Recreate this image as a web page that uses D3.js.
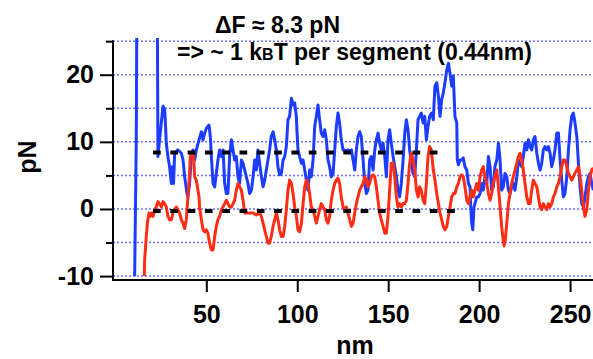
<!DOCTYPE html>
<html>
<head>
<meta charset="utf-8">
<script src="https://cdn.jsdelivr.net/npm/d3@7"></script>
<style>
  body { margin: 0; background: #fff; }
  svg text { font-family: "Liberation Sans", Arial, sans-serif; font-weight: bold; fill: #000; }
</style>
</head>
<body>
<div id="chart"></div>
<script>
// blue trace (nm, pN)
const blueNm = [10.6, 11.5, 11.9, 23.0,
  23.4, 24.3, 26.2, 27.1, 27.6, 28.0, 28.9, 29.8, 30.8, 31.3, 32.0, 32.6, 34.4, 36.3, 37.2, 38.1, 39.4, 39.9, 40.8, 41.8, 42.7,
  43.6, 44.5, 46.0, 47.3, 48.2, 49.1, 50.0, 51.5, 52.2, 52.8, 53.7, 54.6, 55.5, 56.4, 57.3, 58.3, 59.2, 60.1, 61.0, 61.9,
  62.8, 63.8, 64.7, 65.6, 66.5, 67.4, 68.3, 69.3, 70.2, 71.1, 72.0, 72.9, 73.8, 74.8, 75.7, 76.6, 77.5, 78.4, 79.3, 80.3,
  81.2, 82.1, 83.0, 83.9, 84.8, 85.7, 86.7, 87.6, 88.5,
  89.4, 90.3, 91.3, 92.2, 93.1, 94.0, 94.9, 95.8, 96.8, 97.7, 98.6, 99.5, 99.9, 100.4, 101.3, 102.3, 103.2, 104.1, 105.0,
  105.9, 106.8, 107.7, 108.7, 109.6, 110.5, 111.4, 112.3, 113.2, 114.2, 115.1, 116.0, 116.9, 117.8, 118.7, 119.7, 120.6,
  121.5, 122.4, 123.3, 124.2, 125.2, 126.1, 127.0, 127.9, 128.8, 129.8, 130.7, 131.6, 132.5, 133.4, 134.3, 135.2, 136.2,
  137.1, 138.0, 138.9, 139.8, 140.7, 141.7, 142.6, 143.5, 144.4, 145.3, 146.2, 147.2, 148.1, 149.0, 149.9, 150.8, 151.7,
  152.7, 153.6, 154.5, 155.4, 156.3, 157.2, 158.2, 159.1, 160.0, 160.9, 161.8, 162.7, 163.7, 164.6, 165.5, 166.4, 167.3,
  168.2, 169.2, 170.1, 171.0, 171.9, 172.8,
  173.9, 174.8, 175.7, 176.7, 177.6, 178.5, 179.4, 180.3, 181.2, 182.2, 183.1, 184.0, 184.9, 185.8, 186.7, 187.7, 188.0,
  188.6, 189.5, 190.4, 191.3, 192.2, 193.2, 194.1, 195.0, 195.4, 195.9, 196.5, 197.2, 197.7, 198.7, 199.6, 200.5, 201.4,
  202.3, 203.2, 204.2, 205.1, 206.0, 206.9, 207.8, 208.7, 209.7, 210.6, 211.5, 212.4, 213.3, 214.2, 215.2, 216.1, 217.0,
  217.9, 218.8, 219.7, 220.7, 221.6, 222.5, 223.4, 224.3, 225.2, 226.2, 227.1, 228.0, 228.9, 229.8, 230.7, 231.7, 232.6,
  233.5, 234.4, 235.3, 236.2, 237.2, 238.1, 239.0, 239.9, 240.8, 241.7, 242.7, 243.6, 244.5, 245.4, 246.3, 247.2, 248.2,
  249.1, 250.0, 250.9, 251.8, 252.7, 253.7, 254.6, 255.5, 256.4, 257.3, 258.2, 259.2, 260.1, 261.0, 261.9, 262.8];
const bluePn = [-10, 10.3, 35, 35,
  7.8, 10.3, 15.3, 14.8, 12.3, 9.8, 7.8, 6.3, 3.8, 6.3, 3.8, 8.3, 8.8, 8.3, 7.3, 4.8, 2.3, 1.8, 3.8, 7.8, 8.8,
  7.3, 8.8, 10.3, 11.5, 10.3, 11.3, 12.0, 12.5, 10.8, 7.8, 3.8, 3.3, 5.3, 7.3, 8.8, 7.8, 8.8, 3.8, 2.3, 2.3,
  7.8, 10.3, 8.8, 7.3, 7.8, 4.8, 3.8, 7.3, 6.8, 5.8, 4.8, 3.8, 2.3, 2.8, 4.8, 7.3, 5.8, 8.8, 6.8, 4.8,
  3.3, 4.3, 5.8, 7.3, 8.8, 10.8, 11.5, 10.3, 8.8,
  6.3, 5.1, 5.3, 7.3, 7.8, 9.3, 13.3, 13.8, 16.5, 15.5, 15.8, 13.8, 11.3, 8.8, 7.8, 6.8, 7.3, 5.8, 4.3,
  2.8, 5.8, 4.8, 7.3, 12.3, 13.8, 15.5, 13.3, 11.3, 10.8, 11.8, 10.3, 7.3, 6.3, 4.8, 5.3, 8.8,
  12.3, 14.3, 12.8, 10.3, 8.8, 8.8, 8.6, 8.8, 8.6, 8.8, 7.3, 5.8, 8.8, 10.8, 11.5, 10.8, 7.3,
  3.8, 2.3, 2.8, 7.3, 7.8, 5.8, 8.8, 10.3, 11.3, 9.8, 8.8, 9.8, 7.8, 4.8, 10.3, 11.8, 9.8,
  7.8, 6.3, 4.8, 2.8, 1.8, 3.8, 7.3, 11.3, 13.3, 11.8, 8.8, 6.8, 5.3, 4.8, 8.8, 13.3, 13.8,
  14.3, 12.8, 13.8, 10.3, 12.3, 13.8,
  14.3, 13.3, 18.3, 18.8, 16.8, 13.8, 16.3, 17.3, 18.8, 20.7, 21.7, 20.2, 18.3, 19.8, 13.8, 12.8, 7.3,
  6.6, 7.3, 7.3, 7.6, 6.3, 5.8, 3.8, 3.3, 0.3, -2.1, -3.1, 0.3, 0.8, 1.8, 1.8, 2.3, 3.8,
  2.8, 4.8, 3.8, 7.8, 6.3, 2.8, 3.3, 6.3, 7.3, 9.8, 7.3, 2.8, 3.3, 5.3, 4.8, 2.8, 2.3,
  3.3, 3.8, 2.8, 4.8, 7.3, 6.8, 6.3, 7.8, 9.8, 8.8, 10.3, 9.3, 8.8, 10.3, 10.8, 8.3, 6.8,
  5.8, 6.8, 8.8, 9.3, 8.8, 9.3, 8.3, 6.3, 7.3, 8.8, 11.3, 11.3, 7.3, 4.3, 1.8, 2.3, 4.8,
  8.8, 11.8, 13.8, 14.3, 12.8, 10.8, 6.8, 3.3, 0.8, 0.3, 1.8, 3.8, 4.8, 5.3, 3.8, 2.8];

// red trace (nm, pN)
const redNm = [15.9, 16.1,
  17.0, 17.6, 18.5, 19.2, 19.8, 20.7, 21.6, 22.5, 23.4, 24.3, 25.3, 26.2, 27.1, 28.0, 28.9, 29.8, 30.8, 31.7, 32.6, 33.5,
  34.4, 35.3, 36.3, 37.2, 38.1, 39.0, 39.9, 40.5, 41.2, 42.1, 43.0, 43.6, 44.5, 45.4, 46.0, 46.3, 47.3, 48.2, 49.1, 50.0,
  50.9, 51.8, 52.8, 53.7, 54.6, 55.5, 56.4, 57.3, 58.3, 59.2, 60.1, 61.0, 61.9, 62.8, 63.8, 64.7, 65.6, 66.5, 67.4, 68.3,
  69.3, 70.2, 71.1, 72.0, 73.8, 75.7, 77.5, 79.3, 80.3, 81.2, 82.1, 83.0, 83.9, 84.8, 85.7, 86.7, 87.6, 88.5,
  89.4, 90.3, 91.3, 92.2, 93.1, 94.0, 94.9, 95.8, 96.8, 97.7, 98.6, 99.5, 100.4, 101.3, 102.3, 103.2, 104.1, 105.0,
  105.9, 106.8, 107.7, 108.7, 109.6, 110.5, 111.4, 112.3, 113.2, 114.2, 115.1, 116.0, 116.9, 117.8, 118.7, 119.7, 120.6,
  121.5, 122.4, 123.3, 124.2, 125.2, 126.1, 127.0, 127.9, 128.8, 129.8, 130.7, 131.6, 132.5, 133.4, 134.3, 135.2, 136.2,
  137.1, 138.0, 138.9, 139.8, 140.7, 141.7, 142.6, 143.5, 144.4, 145.3, 146.2, 147.2, 148.1, 149.0, 149.9, 150.8, 151.7,
  152.7, 153.6, 154.5, 155.4, 156.3, 157.2, 158.2, 159.1, 160.0, 160.9, 161.8, 162.7, 163.7, 164.6, 165.5, 166.4, 167.3,
  168.2, 169.2, 170.1, 171.0, 171.9, 172.8, 173.7,
  174.8, 175.7, 176.7, 177.6, 178.5, 179.4, 180.3, 181.2, 182.2, 183.1, 184.0, 184.9, 185.8, 186.7, 187.7, 188.6, 189.5,
  190.4, 191.3, 192.2, 193.2, 194.1, 195.0, 195.9, 196.8, 197.7, 198.7, 199.6, 200.5, 201.4, 202.3, 203.2, 204.2, 205.1,
  206.0, 206.9, 207.8, 208.7, 209.7, 210.6, 211.5, 212.4, 213.0, 213.7, 214.4, 215.2, 216.1, 217.0, 217.9, 218.8, 219.7,
  220.7, 221.6, 222.5, 223.4, 224.3, 225.2, 226.2, 227.1, 228.0, 228.9, 229.8, 230.7, 231.7, 232.6, 233.5, 234.4, 235.3,
  236.2, 237.2, 238.1, 239.0, 239.9, 240.8, 241.7, 242.7, 243.6, 244.5, 245.4, 246.3, 247.2, 248.2, 249.1, 250.0, 250.9,
  251.8, 252.7, 253.7, 254.6, 255.5, 256.4, 257.3, 258.2, 259.2, 260.1, 261.0, 261.9, 262.8];
const redPn = [-10, -7.6,
  -4.1, -2.1, -0.6, -1.1, -0.6, -1.1, -0.1, 0.3, 1.1, 0.8, 0.3, 1.1, 0.8, 0.3, -1.1, -1.6, -1.6, -0.6, -0.1, 0.3,
  -0.1, -0.6, -1.6, -2.1, -2.9, -1.6, 1.8, 3.8, 7.8, 8.3, 7.8, 4.8, 4.3, 2.8, 1.8, 0.3, -1.6, -3.1, -3.4, -3.1,
  -3.6, -5.1, -6.1, -6.1, -4.1, -2.6, -1.6, -1.1, -0.1, 0.3, 0.8, 1.3, 0.8, 0.3, 0.3, 0.8, 1.3, 2.8, 3.8, 3.3,
  2.8, 1.3, -0.6, -0.6, -0.6, -0.6, -0.9, -0.6, -1.1, -2.1, -3.1, -4.1, -5.1, -5.1, -4.1, -2.6, -1.6, -0.6,
  -1.6, -3.1, -4.1, -4.1, -2.6, -0.1, 2.8, 4.3, 3.8, 2.3, 0.3, -1.1, -3.1, -3.4, -2.1, 0.8, 3.3, 4.3,
  3.8, 2.3, 0.3, -0.1, -1.1, -2.1, -1.1, -0.1, 0.8, 0.3, -0.1, -1.6, -2.1, -1.1, 1.3, 2.8, 3.8,
  4.3, 4.6, 3.8, 1.8, 0.3, -0.1, 0.3, -0.6, -1.6, -2.6, -2.1, -0.6, 0.8, 1.8, 2.8, 3.3, 3.8,
  4.8, 4.3, 3.3, 3.8, 4.8, 5.1, 4.8, 3.3, 1.3, -0.6, -1.6, -2.6, -3.6, -3.6, -1.1, 2.8, 6.8,
  6.8, 4.8, 1.8, 0.3, 0.8, 0.3, 0.8, 0.8, 1.3, 3.8, 6.8, 8.3, 7.3, 5.8, 2.8, 1.8, 3.3,
  2.8, 1.3, 0.8, 3.8, 7.8, 9.3, 8.8,
  5.8, 4.3, 2.3, 0.8, -0.6, -1.6, -2.6, -3.1, -2.6, -1.1, 0.3, 1.8, 2.3, 2.3, 3.3, 3.8, 4.8,
  5.1, 4.8, 3.3, 1.3, 0.8, 1.8, 2.8, 1.8, 2.8, 3.8, 2.8, 4.8, 5.8, 6.3, 4.8, 3.8, 2.3,
  1.3, 2.3, 3.8, 4.8, 5.8, 3.3, 0.3, -2.6, -4.1, -5.5, -4.6, -2.1, 0.8, 2.3, 3.8, 4.8, 5.8,
  6.8, 7.8, 8.3, 7.3, 5.8, 3.8, 1.8, 0.8, 0.8, 2.8, 4.3, 3.8, 3.3, 1.8, 0.3, -0.1, 0.8,
  0.3, -0.1, 0.8, 0.3, 0.8, 1.8, 2.3, 3.3, 3.8, 4.8, 6.3, 7.3, 7.3, 6.3, 5.3, 4.8, 4.3,
  4.8, 5.3, 5.8, 6.3, 4.8, 2.8, 0.3, -1.1, -0.1, 2.8, 4.8, 5.8, 6.1];

// black dashed guide levels
const levelPn = [8.4, -0.3];
const levelStart = [20.7, 20.7];
const levelEnd = [177.9, 187.8];

const yLabelTicks = [-10, 0, 10, 20];
const yMinorTicks = [-5, 5, 15, 25];
const gridTicks = [-10, -5, 0, 5, 10, 15, 20, 25];
const xTicks = [50, 100, 150, 200, 250];

const width = 593, height = 359;
const plotLeft = 113, plotRight = 593, plotTop = 38, plotBottom = 280;

const svg = d3.select('#chart').append('svg')
  .attr('width', width)
  .attr('height', height);

const x = d3.scaleLinear().domain([-1.3, 262.6]).range([plotLeft, plotRight]);
const y = d3.scaleLinear().domain([-10.58, 25.47]).range([plotBottom, plotTop]);

svg.append('clipPath').attr('id', 'plot')
  .append('rect')
  .attr('x', plotLeft).attr('y', plotTop)
  .attr('width', plotRight - plotLeft).attr('height', plotBottom - plotTop);

// dotted gridlines
svg.append('g')
  .selectAll('line')
  .data(gridTicks)
  .enter().append('line')
  .attr('x1', plotLeft).attr('x2', plotRight)
  .attr('y1', d => y(d)).attr('y2', d => y(d))
  .attr('stroke', '#6e6eff')
  .attr('stroke-width', 1.5)
  .attr('stroke-dasharray', '2,2');

const line = d3.line().x(d => x(d[0])).y(d => y(d[1]));
const blue = blueNm.map((d, i) => [d, bluePn[i]]);
const red = redNm.map((d, i) => [d, redPn[i]]);

const traces = svg.append('g').attr('clip-path', 'url(#plot)');
traces.append('path')
  .datum(blue)
  .attr('d', line)
  .attr('fill', 'none')
  .attr('stroke', '#1c3cff')
  .attr('stroke-width', 3)
  .attr('stroke-linejoin', 'round');
traces.append('path')
  .datum(red)
  .attr('d', line)
  .attr('fill', 'none')
  .attr('stroke', '#ff2d14')
  .attr('stroke-width', 3)
  .attr('stroke-linejoin', 'round');

// dashed levels
svg.append('g')
  .selectAll('line')
  .data(levelPn)
  .enter().append('line')
  .attr('x1', (d, i) => x(levelStart[i]))
  .attr('x2', (d, i) => x(levelEnd[i]))
  .attr('y1', d => y(d)).attr('y2', d => y(d))
  .attr('stroke', '#000')
  .attr('stroke-width', 4)
  .attr('stroke-dasharray', '7.7,9.6');

// axes
const yAxis = svg.append('g')
  .attr('transform', `translate(${plotLeft},0)`)
  .call(d3.axisLeft(y).tickValues(yLabelTicks).tickSize(13).tickPadding(6).tickFormat(d => String(d)));
const yMinor = svg.append('g')
  .attr('transform', `translate(${plotLeft},0)`)
  .call(d3.axisLeft(y).tickValues(yMinorTicks).tickSize(7).tickFormat(''));
yAxis.select('.domain').remove();
yMinor.select('.domain').remove();
svg.append('line')
  .attr('x1', plotLeft).attr('x2', plotLeft)
  .attr('y1', y(25) - 1).attr('y2', plotBottom + 1)
  .attr('stroke', '#000').attr('stroke-width', 2);

const xAxis = svg.append('g')
  .attr('transform', `translate(0,${plotBottom})`)
  .call(d3.axisBottom(x).tickValues(xTicks).tickSize(12).tickSizeOuter(0).tickPadding(13));
xAxis.select('.domain').attr('d', `M${plotLeft},0H${plotRight}`);

svg.selectAll('.tick line, .domain').attr('stroke', '#000').attr('stroke-width', 2);
svg.selectAll('.tick text').style('font-size', '25px');

// axis titles
svg.append('text')
  .attr('x', 355).attr('y', 354)
  .attr('text-anchor', 'middle')
  .style('font-size', '25px')
  .text('nm');

svg.append('text')
  .attr('transform', 'translate(36,157) rotate(-90)')
  .attr('text-anchor', 'middle')
  .style('font-size', '25px')
  .text('pN');

// annotation
svg.append('text')
  .attr('x', 215).attr('y', 33)
  .style('font-size', '23px')
  .text('\u0394F \u2248 8.3 pN');

const note = svg.append('text')
  .attr('x', 177).attr('y', 60)
  .style('font-size', '23px');
note.append('tspan').text('=> ~ 1 k');
note.append('tspan').style('font-size', '16px').text('B');
note.append('tspan').text('T per segment (0.44nm)');
</script>
</body>
</html>
